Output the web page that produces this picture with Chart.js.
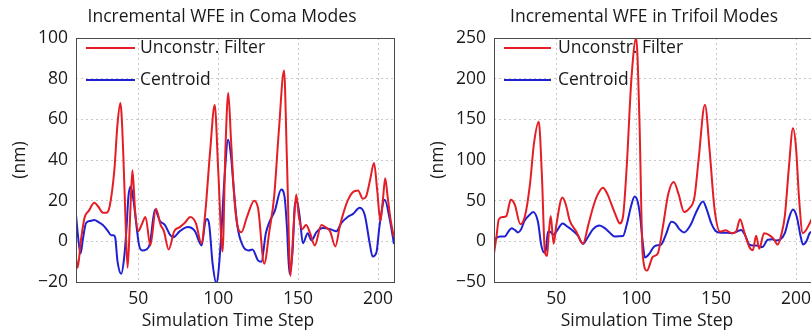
<!DOCTYPE html>
<html><head><meta charset="utf-8">
<script src="https://cdn.jsdelivr.net/npm/chart.js@4.4.1/dist/chart.umd.min.js"></script>
<style>
html,body{margin:0;padding:0;background:#fff;overflow:hidden;width:811px;height:332px;position:relative;}
#c1{position:absolute;left:0;top:0;}
#c2{position:absolute;left:410px;top:0;}
</style></head><body>
<canvas id="c1" width="405" height="332"></canvas>
<canvas id="c2" width="410" height="332"></canvas>
<script>
// ---------- data ----------
const xTickValues = [50, 100, 150, 200];
const comaYTicks = [-20, 0, 20, 40, 60, 80, 100];
const trifoilYTicks = [-50, 0, 50, 100, 150, 200, 250];
const seriesNames = ['Unconstr. Filter', 'Centroid'];
const chartTitles = ['Incremental WFE in Coma Modes', 'Incremental WFE in Trifoil Modes'];
const xAxisLabel = 'Simulation Time Step';
const yAxisLabel = '(nm)';

const comaFilterSteps = [11,12,14,16.3,19,22.5,25,28,30,32,35,37,38.8,40.5,42,43.3,45,46.3,48,50,52,54.5,57.5,61,64,66,69,72.5,76,79,82.5,86,89.5,92,95,97.8,100,102.7,104.5,106.3,108,110,112,114.5,118,122.5,125,128.8,132,135,138,141.2,143,145.2,147,148.8,150.5,152.5,155,157.5,160.4,164.6,167,170,173.3,176,178,181,184,187.5,190.5,192.5,195,197.5,199.5,201.5,203,204.5,206,208,210];
const comaFilterValues = [-8,-13,0,11.5,15,19,17,14,14,17,35,58,68,45,10,-13,15,35,15,5,8,12,-2,16,8,5,-4,5,7,9,12,9,-1,15,45,67,35,-5,45,73,50,22,8,4.5,12,20,16,-11,5,22,55,84,40,-17,5,23,12,6,8,4,-2,8,7,5,-2.5,7,13,20,24,25,21,22,30,38.5,25,10,20,31,22,10,2];

const comaCentroidSteps = [11,12.2,13.8,15.5,17.3,20,22.5,25,28.5,31,33,34.5,35.5,37,39.3,41,42.5,43.8,45.2,47,48.5,50.5,52.5,55,57.3,60.4,63.5,66.7,70,72,76,81,85.4,89.6,92,93.2,94.4,96.5,99,100.5,102,104,106.2,108,109.5,111.9,115.6,119,121.4,125,127,129.8,132.3,135.4,139.4,141.5,143,144.6,146.5,148,149.2,151,153,156,158.3,161.5,165.6,170,174,177,181,184.4,188.5,191.7,194.8,196.6,199,201,204.2,207.3,210];
const comaCentroidValues = [13,3,-6,2,9,10,10.5,9.5,7.5,5,3,3,2,-10,-16,-9,5,22,27,20,10,-2,-4.5,-4,-1,15.5,10,8,3,2,5,7,5,-2,10,11,8,-11,-21,-12,5,32,50,42,28,8,-2.5,-4.5,-4,-9.5,-10,4,10,15,25.5,22,7,-16,-5,18,20,12,-1,4,0.5,4.5,6.5,6,5,9,12,13.5,16.5,13,-1,-7.5,-5.5,8,20.5,11,-1.3];

const trifoilFilterSteps = [11,12.5,14,16.5,18.7,21.5,24,27.5,30.5,33.5,36,39,41,42.8,44.2,45.3,46.5,48.3,50,53.8,56,58.3,62.5,66.7,70,73,76,79.2,82,84.4,88,89.6,91.7,94,97,100,102,104,106.7,110.4,113.5,116.7,120,123.5,126.5,130,133,136.5,139,143,146,149,152.5,156,160,162.5,165,167.5,170.8,173,175,177,180,183,186,188.5,191,193,195.5,198.1,200,202,204.2,206,208.5,210];
const trifoilFilterValues = [-15,5,27,30,31,51,45,21,32,70,120,147,80,-12,-18,10,31,-3,20,54,45,26,12,-3,20,42,58,66,58,46,28,22,30,90,200,250,150,-15,-36,-19,-15,18,58,73,58,36,40,55,100,168,110,40,12,13.5,10,12,27,12,-7,-11,7,-9,10,8,3,-4,10,31,90,139,115,50,10,13,22,28];

const trifoilCentroidSteps = [11,12.5,15,17.7,20,22,24,26,28,30,33,35.5,38.5,40.6,42.5,43.5,44.8,46.8,48,50,54,57,60.4,63.5,66.7,70,73,77,80.5,83.3,86.5,91.7,94,97,99,101,102.5,104,105.5,108.3,110.5,112.5,115.6,118.5,122,124.5,127,130,134,138,141.8,144,147,149.5,153,157,160.4,163,165.6,168,170.8,173,175,177,179,182.3,185,187.5,190,193,195.5,198.1,200.5,203,204.4,206.5,208.5,210];
const trifoilCentroidValues = [0,4,6,6,12,16,14,11,15,25,32,36,24,-5,-14,-10,12,11,8,12,22,18,13,7,-3,6,15,19.5,16,11,6,6.5,20,45,55,48,30,0,-20,-15,-8,-5,-4,8,24,22,15,11,20,38,49,40,22,13,10.5,10.5,10,12,14,8,-4,-5,-5,-6,-7,2,2.5,1,2,10,28,39,30,5,-4,0,10,12];

// ---------- style ----------
const FONT = "'Open Sans', sans-serif";
const RED = 'rgb(228,30,36)';
const BLUE = 'rgb(30,32,210)';
const TXT = '#1a1a1a';

function pts(xs, ys){ return xs.map((x,i)=>({x:x, y:ys[i]})); }

const deco = {
  id: 'deco',
  beforeDatasetsDraw(chart, args, o){
    const ctx = chart.ctx;
    ctx.save();
    ctx.font = '17.5px ' + FONT;
    ctx.fillStyle = TXT;
    ctx.textBaseline = 'middle';
    ctx.textAlign = 'left';
    const L = o.legend;
    chart.data.datasets.forEach((ds,i)=>{
      const y = L.ys[i];
      ctx.strokeStyle = ds.borderColor;
      ctx.lineWidth = 2;
      ctx.beginPath(); ctx.moveTo(L.x0, y); ctx.lineTo(L.x1, y); ctx.stroke();
      ctx.fillText(ds.label, L.tx, y);
    });
    ctx.restore();
  },
  afterDraw(chart, args, o){
    const ctx = chart.ctx, a = chart.chartArea;
    ctx.save();
    ctx.strokeStyle = '#4a4a4a';
    ctx.lineWidth = 1;
    ctx.strokeRect(Math.round(a.left)+0.5, Math.round(a.top)+0.5, Math.round(a.right-a.left), Math.round(a.bottom-a.top));
    ctx.fillStyle = TXT;
    ctx.textAlign = 'center';
    ctx.textBaseline = 'middle';
    ctx.font = '17.5px ' + FONT;
    ctx.fillText(o.title, o.titleX, o.titleY);
    ctx.font = '17.5px ' + FONT;
    ctx.fillText(o.xlabel, o.xlabelX, o.xlabelY);
    ctx.translate(o.ylabelX, (a.top + a.bottom)/2);
    ctx.rotate(-Math.PI/2);
    ctx.fillText(o.ylabel, 0, 0);
    ctx.restore();
  }
};

function makeChart(id, cfg){
  const fmt = v => String(v).replace('-', '\u2212');
  return new Chart(document.getElementById(id), {
    type: 'line',
    data: { datasets: [
      { label: seriesNames[0], data: pts(cfg.rx, cfg.ry), borderColor: RED, backgroundColor: RED, borderWidth: 2, pointRadius: 0, cubicInterpolationMode: 'monotone', fill: false },
      { label: seriesNames[1], data: pts(cfg.bx, cfg.by), borderColor: BLUE, backgroundColor: BLUE, borderWidth: 2, pointRadius: 0, cubicInterpolationMode: 'monotone', fill: false }
    ]},
    options: {
      responsive: false, animation: false, devicePixelRatio: 1,
      layout: { padding: { left: 0, right: cfg.padRight, top: 38, bottom: 0 } },
      plugins: { legend: { display: false }, tooltip: { enabled: false }, title: { display: false },
        deco: cfg.deco },
      scales: {
        x: { type: 'linear', min: 11, max: 210,
          afterBuildTicks: s => { s.ticks = xTickValues.map(v => ({ value: v })); },
          afterFit: s => { s.height = 50; },
          grid: { color: '#c8c8c8', lineWidth: 1, drawTicks: false },
          border: { display: false, dash: [2, 3] },
          ticks: { padding: 7, color: TXT, font: { family: FONT, size: 17.5 }, callback: v => fmt(v) } },
        y: { type: 'linear', min: cfg.ymin, max: cfg.ymax,
          afterBuildTicks: s => { s.ticks = cfg.yticks.map(v => ({ value: v })); },
          afterFit: s => { s.width = cfg.yw; },
          grid: { color: '#c8c8c8', lineWidth: 1, drawTicks: false },
          border: { display: false, dash: [2, 3] },
          ticks: { padding: 8, color: TXT, font: { family: FONT, size: 17.5 }, callback: v => fmt(v) } }
      }
    },
    plugins: [deco]
  });
}

makeChart('c1', {
  rx: comaFilterSteps, ry: comaFilterValues, bx: comaCentroidSteps, by: comaCentroidValues,
  ymin: -20, ymax: 100, yticks: comaYTicks, yw: 76, padRight: 11,
  deco: { title: chartTitles[0], titleX: 222, titleY: 17, xlabel: xAxisLabel, xlabelX: 228, xlabelY: 321,
    ylabel: yAxisLabel, ylabelX: 20, legend: { x0: 86, x1: 135, tx: 140, ys: [48, 80] } }
});
makeChart('c2', {
  rx: trifoilFilterSteps, ry: trifoilFilterValues, bx: trifoilCentroidSteps, by: trifoilCentroidValues,
  ymin: -50, ymax: 250, yticks: trifoilYTicks, yw: 84, padRight: 8,
  deco: { title: chartTitles[1], titleX: 234, titleY: 17, xlabel: xAxisLabel, xlabelX: 237, xlabelY: 321,
    ylabel: yAxisLabel, ylabelX: 28, legend: { x0: 94, x1: 141, tx: 148, ys: [48, 80] } }
});
</script>
</body></html>
